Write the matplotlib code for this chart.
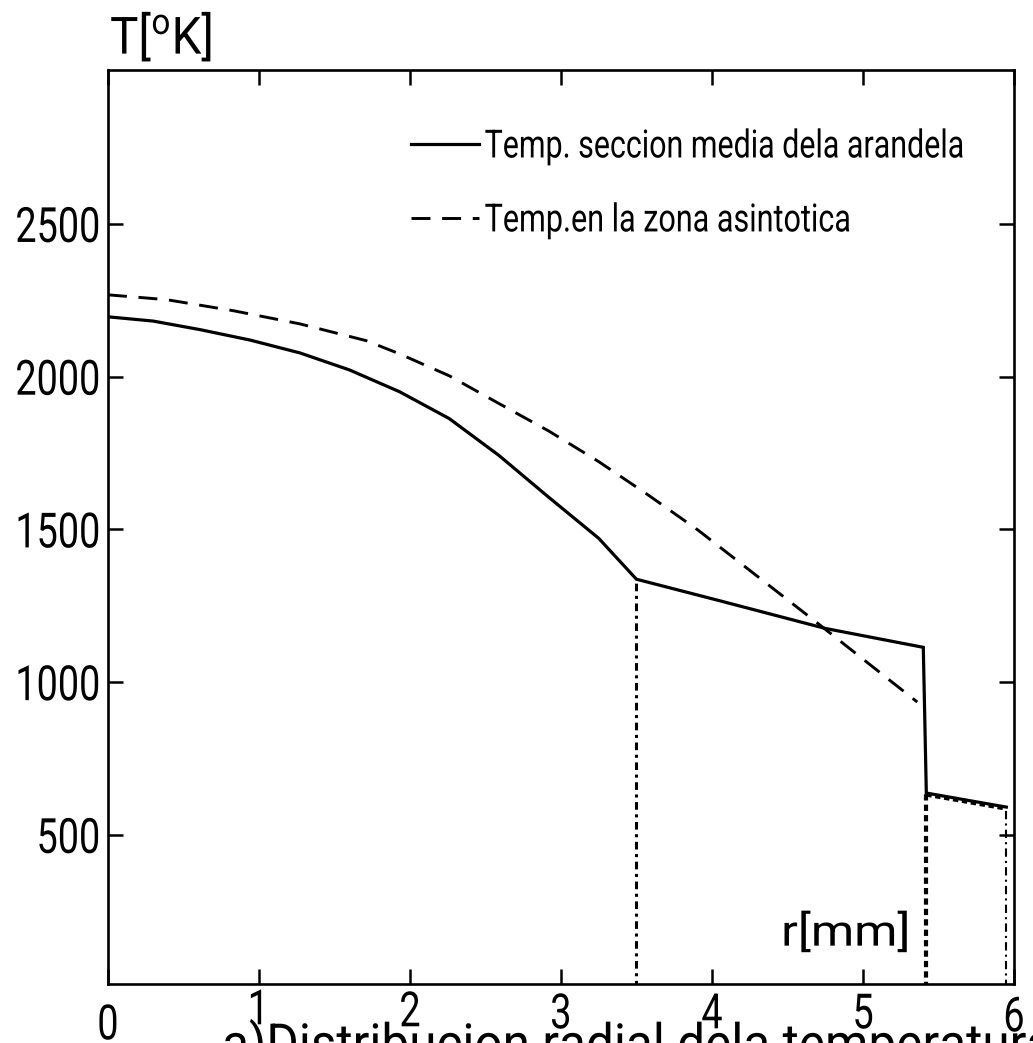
import numpy as np
import matplotlib
matplotlib.use("Agg")
import matplotlib.pyplot as plt
from matplotlib.patheffects import AbstractPathEffect
from matplotlib.transforms import Affine2D

plt.rcParams['font.family'] = ['Roboto', 'DejaVu Sans']
plt.rcParams['mathtext.fontset'] = 'custom'
plt.rcParams['mathtext.rm'] = 'Roboto'

# radial temperature, mid-section of the washer
r_mid = [0.0, 0.30, 0.61, 0.94, 1.27, 1.60, 1.93, 2.26, 2.59, 2.92, 3.25, 3.50,
         4.04, 4.75, 5.40, 5.42, 5.95]
T_mid = [2196, 2182, 2154, 2120, 2078, 2022, 1951, 1863, 1742, 1605, 1471, 1337,
         1268, 1176, 1114, 637, 591]

# temperature in the asymptotic zone
r_asym = [0.0, 0.39, 0.83, 1.27, 1.71, 1.93, 2.26, 2.59, 2.92, 3.25, 3.58, 3.91,
          4.70, 5.36]
T_asym = [2268, 2252, 2216, 2173, 2118, 2075, 2003, 1912, 1822, 1722, 1612, 1497,
          1193, 935]

# region boundaries (vertical dotted lines)
r_bound = [3.50, 5.42, 5.95]
T_bound = [1337, 637, 591]

x_ticks = [0, 1, 2, 3, 4, 5, 6]
y_ticks = [500, 1000, 1500, 2000, 2500]

lbl_mid = "Temp. seccion media dela arandela"
lbl_asym = "Temp.en la zona asintotica"


class Squeeze(AbstractPathEffect):
    """Draw text compressed horizontally (narrow lettering), optionally nudged."""

    def __init__(self, sx, anchor='left', dy=0):
        super().__init__()
        self.sx = sx
        self.anchor = anchor
        self.dy = dy

    def draw_path(self, renderer, gc, tpath, affine, rgbFace=None):
        ext = tpath.get_extents()
        cx = {'left': ext.x0, 'center': 0.5 * (ext.x0 + ext.x1), 'right': ext.x1}[self.anchor]
        t = (Affine2D().translate(-cx, 0).scale(self.sx, 1).translate(cx, 0)
             + affine + Affine2D().translate(0, self.dy))
        renderer.draw_path(gc, tpath, t, rgbFace)


fig = plt.figure(figsize=(10.33, 10.43), dpi=100)
ax = fig.add_axes([0.1045, 0.0566, 0.877, 0.8763])

ax.plot(r_mid, T_mid, color='black', lw=2.3, solid_joinstyle='miter', label=lbl_mid)
ax.plot(r_asym, T_asym, color='black', lw=2.1, linestyle=(0, (6.5, 4)), label=lbl_asym)

ax.vlines(r_bound[0], 0, T_bound[0], color='black', lw=2.2, linestyles=[(0, (2.5, 1.5, 1, 1.5))])
ax.vlines(r_bound[1], 0, T_bound[1], color='black', lw=3.0, linestyles=[(0, (1.5, 1.0))])
ax.vlines(r_bound[2], 0, T_bound[2], color='black', lw=1.5, linestyles=[(0, (4, 2, 1, 2))])
# dotted edge doubling the outer segment
ax.plot(r_mid[-2:], np.array(T_mid[-2:]) - 6, color='black', lw=2.6, linestyle=(0, (1.5, 1.0)))

ax.set_xlim(0, 6)
ax.set_ylim(12, 3004)
ax.set_xticks(x_ticks)
ax.set_yticks(y_ticks)
ax.tick_params(direction='in', length=11, width=1.8, top=True, right=True,
               labelsize=35, colors='black')
ax.tick_params(axis='x', pad=6)
ax.tick_params(axis='y', pad=5)
for s in ax.spines.values():
    s.set_linewidth(1.9)

leg = ax.legend(loc='upper left', bbox_to_anchor=(0.334, 0.936), frameon=False,
                fontsize=28, handlelength=1.75, handletextpad=0.15, labelspacing=0.95,
                borderpad=0, borderaxespad=0)

t_r = ax.text(5.31, 108, "r[mm]", fontsize=31, ha='right', va='bottom')
t_T = fig.text(110 / 1033, 1 - 65 / 1043, r"T[$^{\mathrm{o}}$K]", fontsize=37,
               ha='left', va='bottom')
t_title = fig.text(222 / 1033, 1 - 1018 / 1043, "a)Distribucion radial dela temperatura",
                   fontsize=38, ha='left', va='top')

# narrow lettering: fit each text to its width in pixels
fig.canvas.draw()
renderer = fig.canvas.get_renderer()


def squeeze_to(text, width_px, anchor):
    w = text.get_window_extent(renderer).width
    text.set_path_effects([Squeeze(width_px / w, anchor)])


ylabels = ax.get_yticklabels()
sx_ticks = 85 / ylabels[-1].get_window_extent(renderer).width
for lab in ylabels:
    lab.set_path_effects([Squeeze(sx_ticks, 'right')])
# hand-lettered digits sit at slightly different heights
x_label_dy = [-11, 4, 2, 0, 0, 0, -3]
for lab, dy in zip(ax.get_xticklabels(), x_label_dy):
    lab.set_path_effects([Squeeze(sx_ticks, 'center', dy)])

leg_texts = leg.get_texts()
squeeze_to(leg_texts[0], 479, 'left')
squeeze_to(leg_texts[1], 366, 'left')
squeeze_to(t_r, 129, 'right')
squeeze_to(t_T, 102, 'left')
squeeze_to(t_title, 830, 'left')

fig.savefig("out.png", dpi=100)
